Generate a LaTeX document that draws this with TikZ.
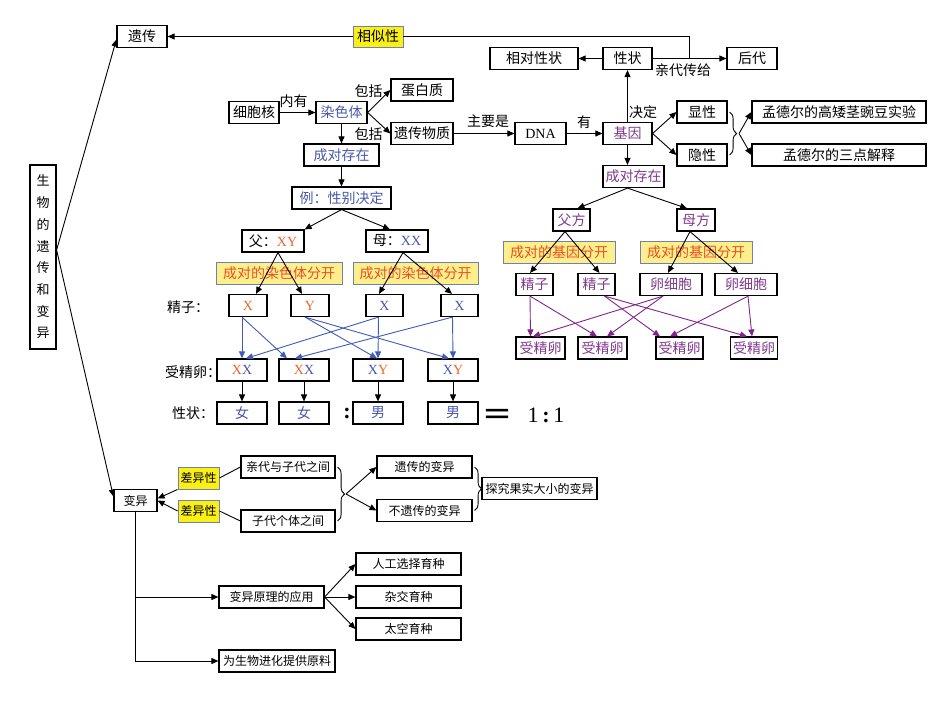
\documentclass[tikz,border=0pt]{standalone}
\usepackage{fontspec}
\setmainfont{Noto Sans CJK SC}
\newfontfamily\latf{Liberation Serif}
\newfontfamily\cjkb[FakeBold=2]{Noto Sans CJK SC}
\definecolor{sexblue}{RGB}{72,88,170}
\definecolor{sexorange}{RGB}{232,104,44}
\definecolor{genepurple}{RGB}{128,58,140}
\definecolor{arrblue}{RGB}{62,92,184}
\definecolor{arrpurple}{RGB}{128,36,140}
\definecolor{hlyellow}{RGB}{250,240,20}
\definecolor{paleyellow}{RGB}{253,240,140}
\definecolor{boxrim}{RGB}{112,128,176}
\definecolor{septext}{RGB}{234,78,36}
\usetikzlibrary{arrows.meta,decorations.pathreplacing}
\newcommand\bigf{\fontsize{14}{15}\selectfont}
\newcommand\smallf{\fontsize{12}{14}\selectfont}
\newcommand\orx[1]{{\latf\color{sexorange}#1}}
\newcommand\blx[1]{{\latf\color{sexblue}#1}}
\tikzset{
  box/.style={draw, line width=1.2pt, inner sep=0pt, minimum height=22, font=\bigf},
  sbox/.style={box, font=\smallf},
  hbox/.style={box, fill=hlyellow, draw=boxrim, line width=0.9pt},
  pbox/.style={box, fill=paleyellow, draw=boxrim, line width=0.9pt, text=septext},
  lbl/.style={inner sep=0pt, font=\bigf},
  arr/.style={-{Triangle[length=7pt,width=6pt]}, line width=0.9pt},
  barr/.style={arr, arrblue},
  parr/.style={arr, arrpurple},
  brc/.style={decorate, decoration={brace, amplitude=7pt, raise=2pt}, line width=0.9pt}
}
\begin{document}
\begin{tikzpicture}[x=1pt,y=-1pt]
  \useasboundingbox (0,0) rectangle (950,713);

  % root and the two branches
  \node[box, minimum width=26, minimum height=184, align=center,
        font=\fontsize{13}{21.7}\selectfont] (bio) at (43,257)
        {生\\物\\的\\遗\\传\\和\\变\\异};
  \node[box, minimum width=50] (yichuan) at (142,36.5) {遗传};
  \node[sbox, minimum width=43] (bianyi) at (135.5,500.5) {变异};

  % heredity: top row
  \node[hbox, minimum width=50, minimum height=21] (xiangsi) at (378,36.5) {相似性};
  \node[box, minimum width=88] (xiangdui) at (534,58.5) {相对性状};
  \node[box, minimum width=49] (xingzhuang) at (627.5,58.5) {性状};
  \node[box, minimum width=50] (houdai) at (752,58.5) {后代};
  \node[lbl] (qindai) at (683,70) {亲代传给};

  % chromosome chain
  \node[box, minimum width=50] (xibaohe) at (254,112.5) {细胞核};
  \node[box, minimum width=51, text=sexblue] (ranseti) at (341.5,112.5) {染色体};
  \node[box, minimum width=62] (danbai) at (422,90) {蛋白质};
  \node[box, minimum width=62] (wuzhi) at (422,133.5) {遗传物质};
  \node[lbl] (neiyou) at (293.5,101) {内有};
  \node[lbl] (baokuoa) at (368.5,91) {包括};
  \node[lbl] (baokuob) at (368.5,134) {包括};
  \node[box, minimum width=75, text=sexblue] (chengdui) at (341.5,155) {成对存在};
  \node[box, minimum width=99, text=sexblue] (lizi) at (341.5,198) {例：性别决定};

  % gene chain
  \node[box, minimum width=51] (dna) at (540.5,133.5) {\latf DNA};
  \node[lbl] (zhuyao) at (488,121) {主要是};
  \node[lbl] (you) at (584,122) {有};
  \node[box, minimum width=49, text=genepurple] (jiyin) at (627.5,133.5) {基因};
  \node[lbl] (jueding) at (643,112) {决定};
  \node[box, minimum width=50] (xian) at (702,112) {显性};
  \node[box, minimum width=50] (yin) at (702,155) {隐性};
  \node[box, minimum width=174] (mengA) at (839,112) {孟德尔的高矮茎豌豆实验};
  \node[box, minimum width=174] (mengB) at (839,155) {孟德尔的三点解释};
  \node[box, minimum width=61, text=genepurple] (gpair) at (633.5,176.5) {成对存在};
  \node[box, minimum width=37, text=genepurple] (fufang) at (571.5,220) {父方};
  \node[box, minimum width=38, text=genepurple] (mufang) at (696,220) {母方};

  % sex determination
  \node[box, minimum width=62] (fu) at (273,241) {父：\orx{XY}};
  \node[box, minimum width=62] (mu) at (397,241) {母：\blx{XX}};
  \node[pbox, minimum width=126] (sepa) at (279,273) {成对的染色体分开};
  \node[pbox, minimum width=125] (sepb) at (415.5,273) {成对的染色体分开};
  \node[lbl] (jzlbl) at (188,307) {精子：};
  \node[box, minimum width=38] (xa) at (248,305.5) {\orx{X}};
  \node[box, minimum width=38] (ya) at (310,305.5) {\orx{Y}};
  \node[box, minimum width=37] (xb) at (384.5,305.5) {\blx{X}};
  \node[box, minimum width=37] (xc) at (459.5,305.5) {\blx{X}};
  \node[lbl] (sjlbl) at (193,372) {受精卵：};
  \node[box, minimum width=50, fill=white] (za) at (242,370) {\orx{X}\blx{X}};
  \node[box, minimum width=50] (zb) at (304,370) {\orx{X}\blx{X}};
  \node[box, minimum width=50] (zc) at (378,370) {\blx{X}\orx{Y}};
  \node[box, minimum width=50] (zd) at (453,370) {\blx{X}\orx{Y}};
  \node[lbl] (xzlbl) at (193,413) {性状：};
  \node[box, minimum width=50, text=sexblue] (na) at (242,413) {女};
  \node[box, minimum width=50, text=sexblue] (nb) at (304,413) {女};
  \node[box, minimum width=50, text=sexblue] (nc) at (378,413) {男};
  \node[box, minimum width=50, text=sexblue] (nd) at (453,413) {男};
  \node[inner sep=0pt, font=\latf\bfseries\fontsize{22}{22}\selectfont] (colon) at (347,413) {:};
  \node[inner sep=0pt, font=\cjkb\fontsize{30}{30}\selectfont] (eq) at (497,417) {＝};
  \node[inner sep=0pt, font=\latf\fontsize{22}{22}\selectfont] (ratio) at (546,415)
        {1\,{\bfseries:}\,1};

  % gene separation
  \node[pbox, minimum width=112] (gsepa) at (559,252) {成对的基因分开};
  \node[pbox, minimum width=112] (gsepb) at (696,252) {成对的基因分开};
  \node[box, minimum width=37, text=genepurple] (jza) at (534.5,284.5) {精子};
  \node[box, minimum width=37, text=genepurple] (jzb) at (596.5,284.5) {精子};
  \node[box, minimum width=62, text=genepurple] (lxa) at (671,284.5) {卵细胞};
  \node[box, minimum width=62, text=genepurple] (lxb) at (746,284.5) {卵细胞};
  \node[box, minimum width=49, text=genepurple] (sza) at (540.5,348) {受精卵};
  \node[box, minimum width=49, text=genepurple] (szb) at (602.5,348) {受精卵};
  \node[box, minimum width=47, text=genepurple] (szc) at (679.5,348) {受精卵};
  \node[box, minimum width=47, text=genepurple] (szd) at (754,348) {受精卵};

  % variation
  \node[hbox, minimum width=41, font=\smallf] (chaya) at (198.5,478) {差异性};
  \node[hbox, minimum width=41, font=\smallf] (chayb) at (198.5,511) {差异性};
  \node[sbox, minimum width=94] (qinzi) at (288,467) {亲代与子代之间};
  \node[sbox, minimum width=94] (zidai) at (288,521) {子代个体之间};
  \node[sbox, minimum width=95] (kby) at (424.5,467) {遗传的变异};
  \node[sbox, minimum width=95] (bkby) at (424.5,510.5) {不遗传的变异};
  \node[sbox, minimum width=115] (tanjiu) at (539.5,488.5) {探究果实大小的变异};
  \node[sbox, minimum width=105] (yingyong) at (271.5,597) {变异原理的应用};
  \node[sbox, minimum width=105] (rengong) at (408.5,564) {人工选择育种};
  \node[sbox, minimum width=105] (zajiao) at (408.5,597) {杂交育种};
  \node[sbox, minimum width=105] (taikong) at (408.5,629) {太空育种};
  \node[sbox, minimum width=116] (yuanliao) at (277,661) {为生物进化提供原料};

  \coordinate (jq) at (689,58.5);
  \coordinate (xytip) at (739,133.5);
  \coordinate (qztip) at (346,494);
  \coordinate (bytip) at (481,488.5);

  % connectors: root
  \draw[arr] ([yshift=7pt]bio.east) -- ([yshift=-3pt]yichuan.west);
  \draw[arr] ([yshift=7pt]bio.east) -- ([yshift=4pt]bianyi.west);

  % connectors: heredity
  \draw[arr] (xingzhuang.east) -- (houdai.west);
  \draw[arr] (xingzhuang.west) -- (xiangdui.east);
  \draw[line width=0.9pt] (jq) |- (xiangsi.east);
  \draw[arr] (xiangsi.west) -- (yichuan.east);
  \draw[arr] (xibaohe.east) -- (ranseti.west);
  \draw[arr] (ranseti.east) -- (danbai.west);
  \draw[arr] (ranseti.east) -- (wuzhi.west);
  \draw[arr] (ranseti.south) -- (chengdui.north);
  \draw[arr] (chengdui.south) -- (lizi.north);
  \draw[arr] (wuzhi.east) -- (dna.west);
  \draw[arr] (dna.east) -- (jiyin.west);
  \draw[arr] (jiyin.north) -- (xingzhuang.south);
  \draw[arr] (jiyin.east) -- (xian.west);
  \draw[arr] (jiyin.east) -- (yin.west);
  \draw[brc] (xian.east) -- (yin.east);
  \draw[arr] (xytip) -- (mengA.west);
  \draw[arr] (xytip) -- (mengB.west);
  \draw[arr] (jiyin.south) -- (jiyin.south |- gpair.north);
  \draw[arr] ([xshift=-6pt]gpair.south) -- ([xshift=6pt]fufang.north);
  \draw[arr] ([xshift=-6pt]gpair.south) -- ([xshift=-9pt]mufang.north);

  % connectors: sex determination
  \draw[arr] (lizi.south) -- (fu.north east);
  \draw[arr] (lizi.south) -- ([xshift=-7pt]mu.north);
  \draw[arr] ([xshift=5pt]fu.south) -- ([xshift=8pt]xa.north);
  \draw[arr] ([xshift=5pt]fu.south) -- ([xshift=-8pt]ya.north);
  \draw[arr] ([xshift=6pt]mu.south) -- ([xshift=-5.5pt]xb.north);
  \draw[arr] ([xshift=6pt]mu.south) -- ([xshift=-7.5pt]xc.north);
  \draw[barr] ([xshift=-6pt]xa.south) -- (za.north);
  \draw[barr] ([xshift=-6pt]xa.south) -- ([xshift=-17pt]zb.north);
  \draw[barr] ([xshift=-5pt]ya.south) -- ([xshift=-1pt]zc.north);
  \draw[barr] ([xshift=-5pt]ya.south) -- ([xshift=-4pt]zd.north);
  \draw[barr] ([xshift=-6pt]xb.south) -- (zc.north);
  \draw[barr] ([xshift=-6pt]xb.south) -- ([xshift=4pt]za.north);
  \draw[barr] ([xshift=-7pt]xc.south) -- (zd.north);
  \draw[barr] ([xshift=-7pt]xc.south) -- ([xshift=-9pt]zb.north);
  \foreach \s/\t in {za/na, zb/nb, zc/nc, zd/nd}
    \draw[arr] (\s.south) -- (\t.north);

  % connectors: gene separation
  \draw[arr] ([xshift=-6.5pt]fufang.south) -- ([xshift=-4.5pt]jza.north);
  \draw[arr] ([xshift=-6.5pt]fufang.south) -- ([xshift=3pt]jzb.north);
  \draw[arr] ([xshift=-6pt]mufang.south) -- ([xshift=-3pt]lxa.north);
  \draw[arr] ([xshift=-6pt]mufang.south) -- ([xshift=-8pt]lxb.north);
  \draw[parr] ([xshift=-4.5pt]jza.south) -- ([xshift=-10pt]sza.north);
  \draw[parr] ([xshift=-4.5pt]jza.south) -- ([xshift=-5.5pt]szb.north);
  \draw[parr] ([xshift=8pt]jzb.south) -- ([xshift=-19.5pt]szc.north);
  \draw[parr] ([xshift=8pt]jzb.south) -- ([xshift=-7pt]szd.north);
  \draw[parr] ([xshift=-8pt]lxa.south) -- ([xshift=-7.5pt]sza.north);
  \draw[parr] ([xshift=-8pt]lxa.south) -- ([xshift=4.5pt]szb.north);
  \draw[parr] ([xshift=2pt]lxb.south) -- ([xshift=-9.5pt]szc.north);
  \draw[parr] ([xshift=2pt]lxb.south) -- ([xshift=-2pt]szd.north);

  % connectors: variation
  \draw[line width=0.9pt] (qinzi.west) -- (chaya.east);
  \draw[line width=0.9pt] (zidai.west) -- (chayb.east);
  \draw[arr] (chaya.south west) -- ([yshift=2pt]bianyi.east);
  \draw[arr] (chayb.west) -- (bianyi.east);
  \draw[brc] (qinzi.east) -- (zidai.east);
  \draw[arr] (qztip) -- (kby.west);
  \draw[arr] (qztip) -- (bkby.west);
  \draw[brc] (kby.east) -- (bkby.east);
  \draw[arr] (bianyi.south) |- (yingyong.west);
  \draw[arr] (bianyi.south) |- (yuanliao.west);
  \foreach \t in {rengong, zajiao, taikong}
    \draw[arr] (yingyong.east) -- (\t.west);
\end{tikzpicture}
\end{document}
